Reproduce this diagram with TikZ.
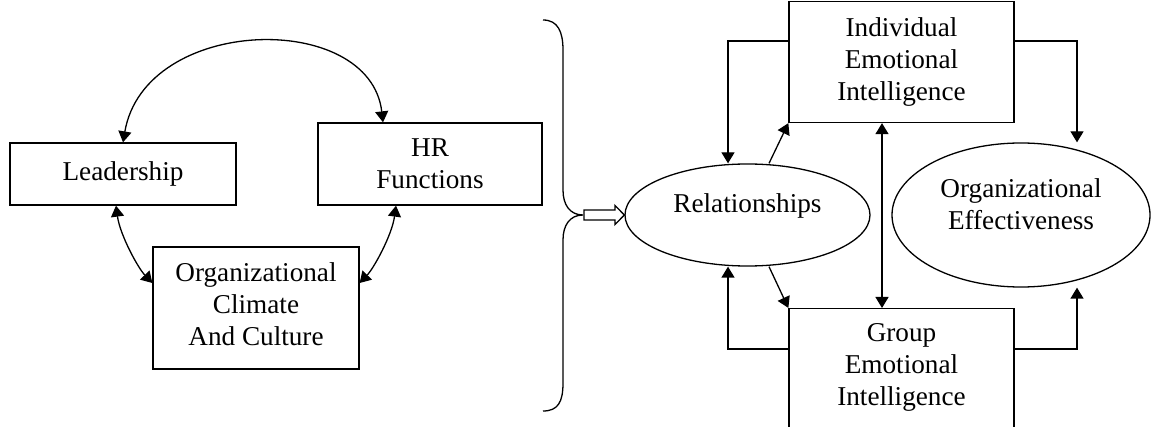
\documentclass[tikz,border=0pt]{standalone}
\usepackage{fontspec}
\setmainfont{Liberation Serif}
\usetikzlibrary{shapes,arrows.meta}

\begin{document}
\begin{tikzpicture}[x=0.5pt, y=-0.5pt, line width=0.65pt,
    font=\fontsize{13.6}{16}\selectfont]
  \tikzstyle{block} = [rectangle, draw, align=center, inner sep=2pt]
  \tikzstyle{oval} = [ellipse, draw, align=center, inner sep=2pt]
  \tikzstyle{line} = [draw, -{Triangle[length=5.5pt, width=6.5pt]}]
  \tikzstyle{dline} = [draw, {Triangle[length=5.5pt, width=6.5pt]}-{Triangle[length=5.5pt, width=6.5pt]}]

  \clip (0,0) rectangle (1151,427);

  % Place nodes
  \node [block, minimum width=113pt, minimum height=31pt] (lead) at (123,174) {Leadership};
  \node [block, minimum width=112pt, minimum height=41pt] (hr) at (430,164) {HR\\Functions};
  \node [block, minimum width=103pt, minimum height=61pt, text depth=4pt] (climate) at (256,308) {Organizational\\Climate\\And Culture};

  \coordinate (brace) at (583,215);
  \node [oval, minimum width=122.5pt, minimum height=51pt, text depth=12pt] (rel) at (747.5,215) {Relationships};
  \node [block, minimum width=112.5pt, minimum height=60.5pt] (indiv) at (901.5,62) {Individual\\Emotional\\Intelligence};
  \node [block, minimum width=112.5pt, anchor=north, inner ysep=7.5pt, text depth=70pt] (group) at (901.5,308) {Group\\Emotional\\Intelligence};
  \node [oval, minimum width=129pt, minimum height=72pt, text depth=11pt] (eff) at (1021,215) {Organizational\\Effectiveness};

  % Draw edges
  \path [dline] (lead.north) .. controls (145,15) and (370,10) .. ([xshift=-23.5pt]hr.north);
  \path [dline] ([xshift=-3.5pt]lead.south) .. controls (120,235) and (138,268) .. ([yshift=12.5pt]climate.west);
  \path [dline] ([xshift=-17pt]hr.south) .. controls (392,235) and (374,268) .. ([yshift=12.5pt]climate.east);

  % brace and hollow arrow
  \draw (543,20) .. controls (558,20) and (563,32) .. (563,50) -- (563,190)
    .. controls (563,205) and (570,215) .. (brace)
    .. controls (570,215) and (563,225) .. (563,240) -- (563,383)
    .. controls (563,402) and (558,411) .. (543,411);
  \draw ([shift={(1,-5)}]brace) -- ++(31,0) -- ++(0,-4.5) -- (rel.west)
    -- ([shift={(32,9.5)}]brace) -- ++(0,-4.5) -- ([shift={(1,5)}]brace) -- cycle;

  \path [line] ([yshift=10.5pt]indiv.west) -| ([xshift=-9.75pt]rel.north);
  \path [line] ([xshift=10.75pt]rel.north) -- (indiv.south west);
  \path [line] ([xshift=10.75pt]rel.south) -- (group.north west);
  \path [line] ([yshift=-20.5pt]group.north west) -| ([xshift=-9.75pt]rel.south);
  \path [dline] ([xshift=-9.75pt]indiv.south) -- ([xshift=-9.75pt]group.north);
  \path [line] ([yshift=10.5pt]indiv.east) -| ([xshift=28pt]eff.north);
  \path [line] ([yshift=-20.5pt]group.north east) -| ([xshift=28pt]eff.south);

\end{tikzpicture}
\end{document}
